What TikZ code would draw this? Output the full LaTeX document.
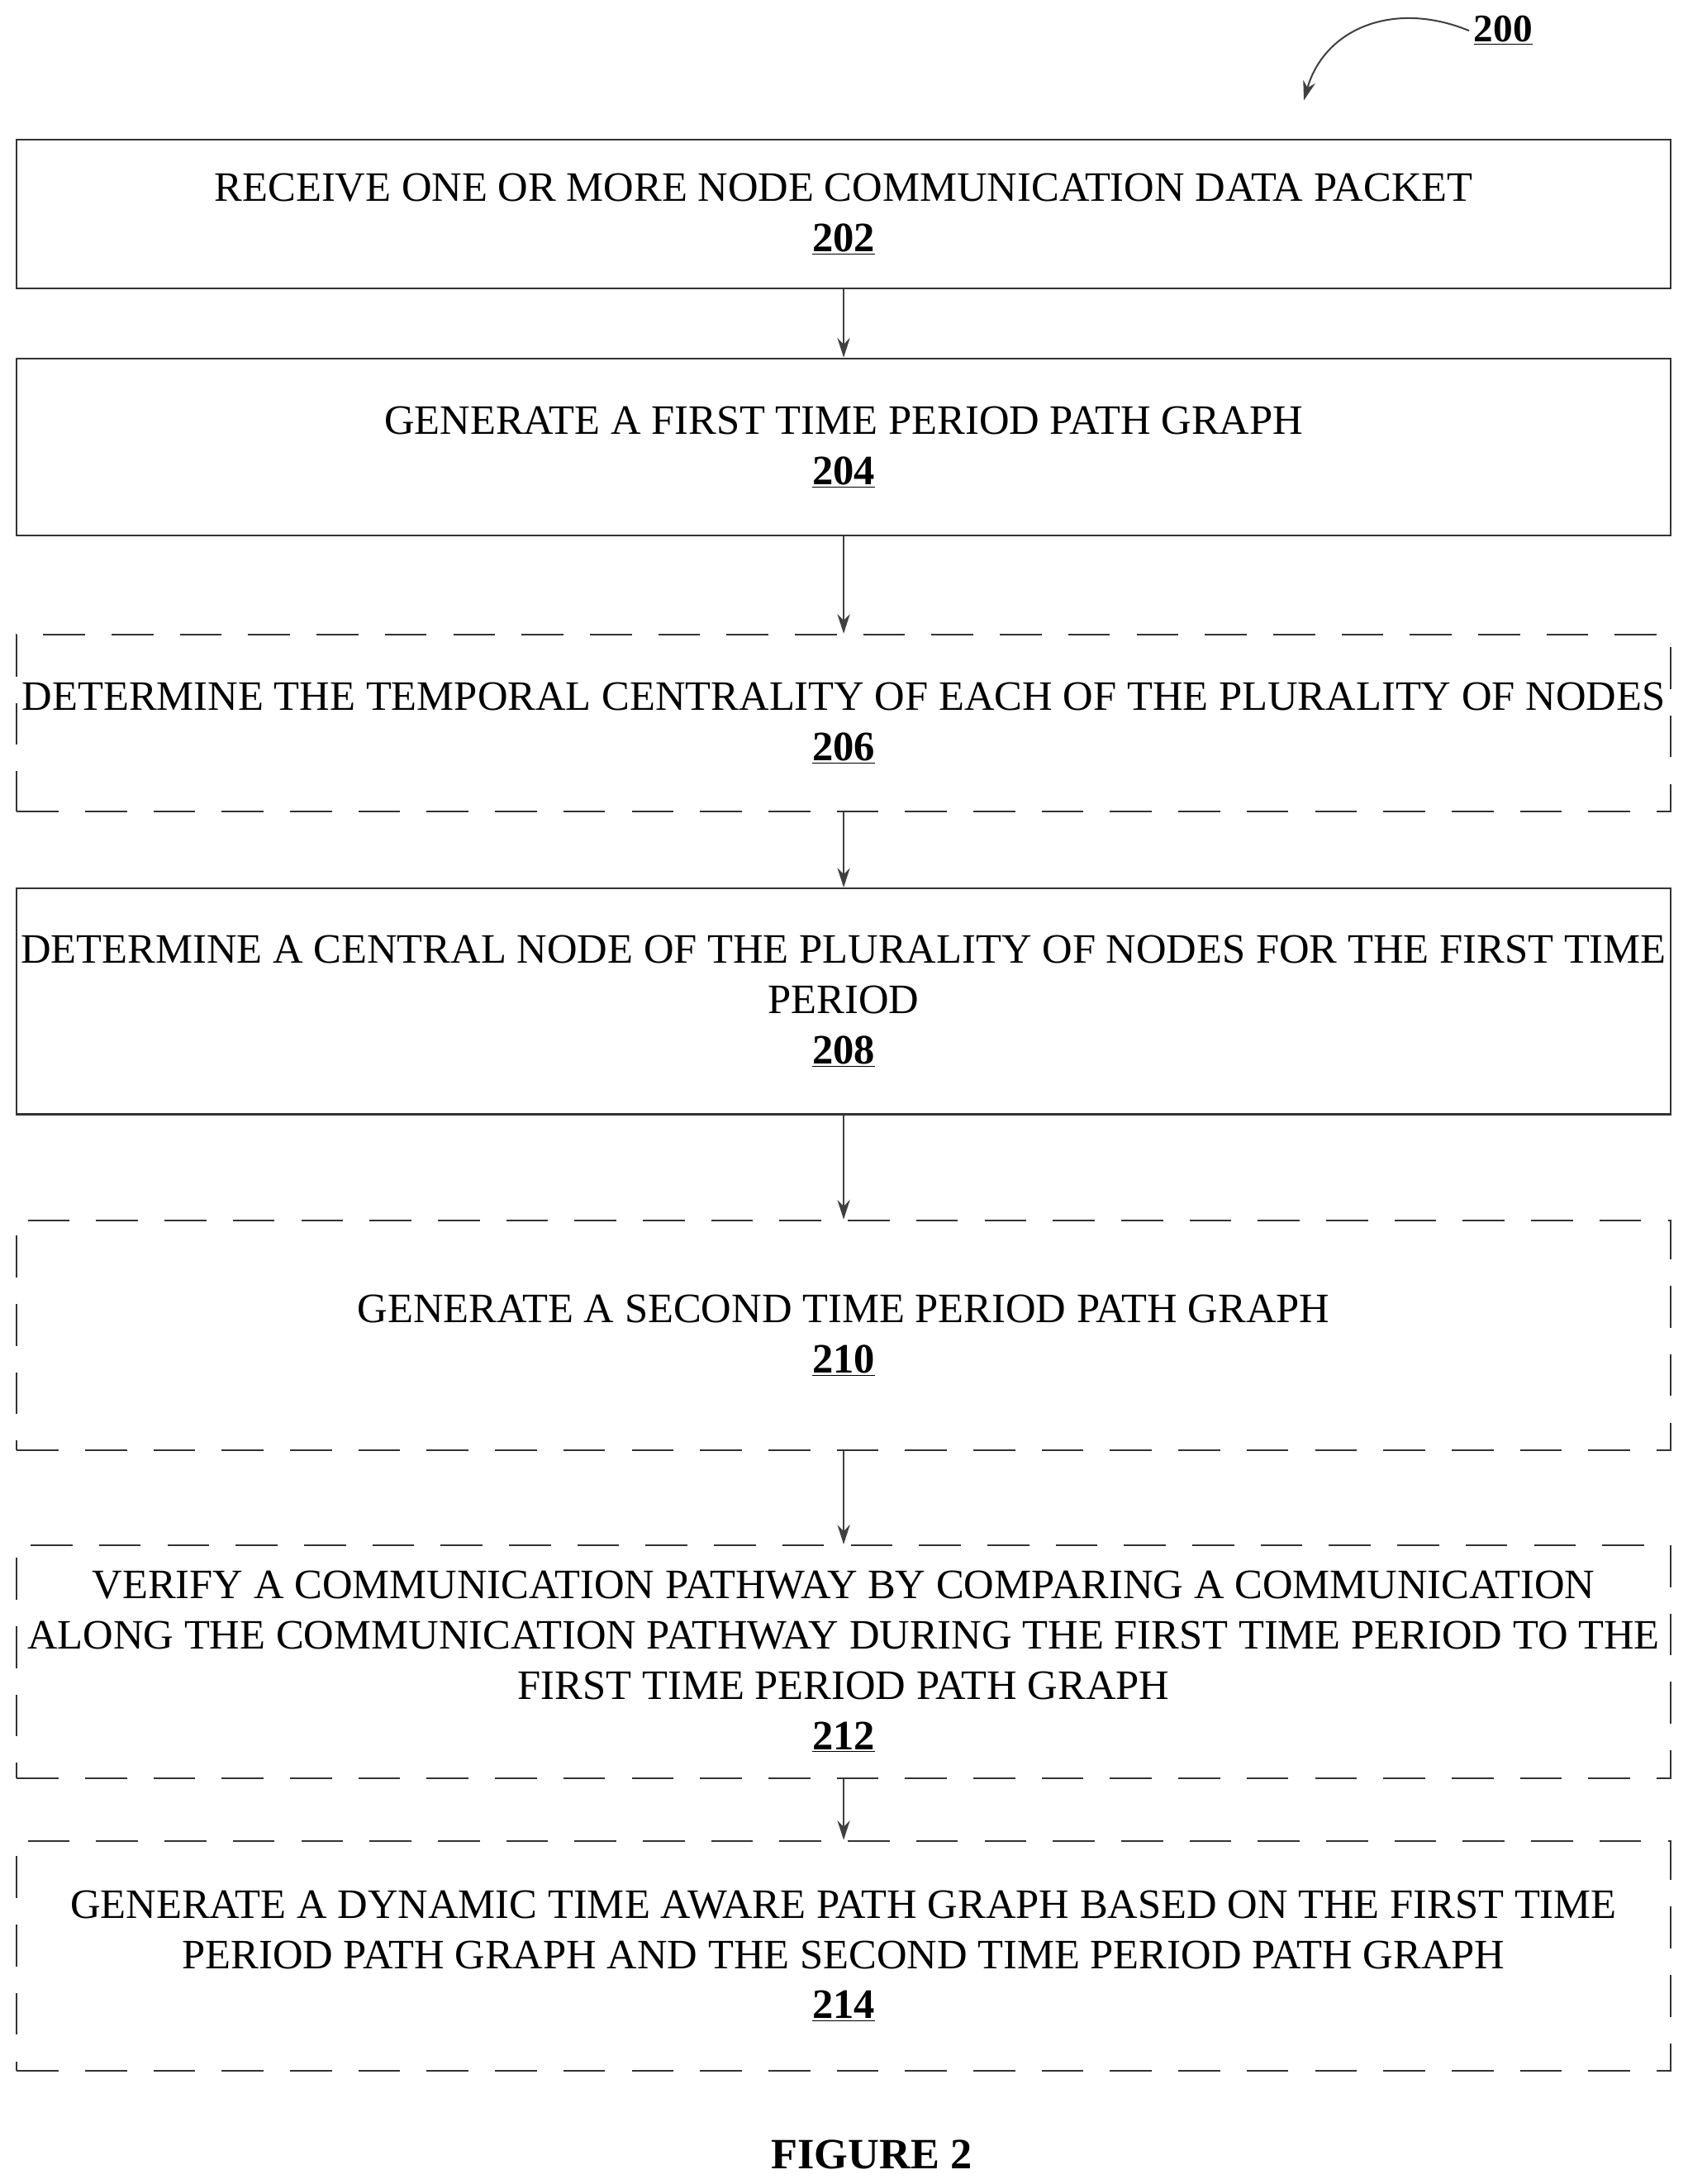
\documentclass[tikz,border=0pt]{standalone}
\usepackage{fontspec}
\setmainfont{Liberation Serif}
\usetikzlibrary{arrows.meta}
\begin{document}
\begin{tikzpicture}[x=1pt,y=-1pt,
 box/.style={draw=black!80,line width=1.3pt,minimum width=1186pt,align=center,inner sep=0pt,
   font=\fontsize{30}{36}\selectfont},
 dsh/.style={dash pattern=on 30pt off 19pt},
 arr/.style={-{Stealth[length=14pt,width=9pt]},line width=1.2pt,draw=black!75}]
\useasboundingbox (0,0) rectangle (1210,1566);
\newcommand{\num}[1]{\underline{\textbf{#1}}}
\node[box,minimum height=107pt] (b202) at (605,153.5) {RECEIVE ONE OR MORE NODE COMMUNICATION DATA PACKET\\\num{202}};
\node[box,minimum height=127pt] (b204) at (605,320.5) {GENERATE A FIRST TIME PERIOD PATH GRAPH\\\num{204}};
\node[box,dsh,minimum height=127pt] (b206) at (605,518.5) {DETERMINE THE TEMPORAL CENTRALITY OF EACH OF THE PLURALITY OF NODES\\\num{206}};
\node[box,minimum height=162pt] (b208) at (605,718) {DETERMINE A CENTRAL NODE OF THE PLURALITY OF NODES FOR THE FIRST TIME\\PERIOD\\\num{208}};
\node[box,dsh,minimum height=165pt] (b210) at (605,957.5) {GENERATE A SECOND TIME PERIOD PATH GRAPH\\\num{210}};
\node[box,dsh,minimum height=167pt] (b212) at (605,1191.5) {VERIFY A COMMUNICATION PATHWAY BY COMPARING A COMMUNICATION\\ALONG THE COMMUNICATION PATHWAY DURING THE FIRST TIME PERIOD TO THE\\FIRST TIME PERIOD PATH GRAPH\\\num{212}};
\node[box,dsh,minimum height=165pt] (b214) at (605,1402.5) {GENERATE A DYNAMIC TIME AWARE PATH GRAPH BASED ON THE FIRST TIME\\PERIOD PATH GRAPH AND THE SECOND TIME PERIOD PATH GRAPH\\\num{214}};
\foreach \a/\b in {b202/b204,b204/b206,b206/b208,b208/b210,b210/b212,b212/b214}
  \draw[arr] (\a.south) -- (\b.north);
\node[font=\fontsize{31}{36}\selectfont\bfseries] (fig) at (625,1545) {FIGURE 2};
\node[font=\fontsize{28}{36}\selectfont] (l200) at (1078,22) {\num{200}};
\coordinate (tip) at (935,72);
\draw[arr] (l200.west) .. controls (1000,0) and (950,20) .. (tip);
\end{tikzpicture}
\end{document}
